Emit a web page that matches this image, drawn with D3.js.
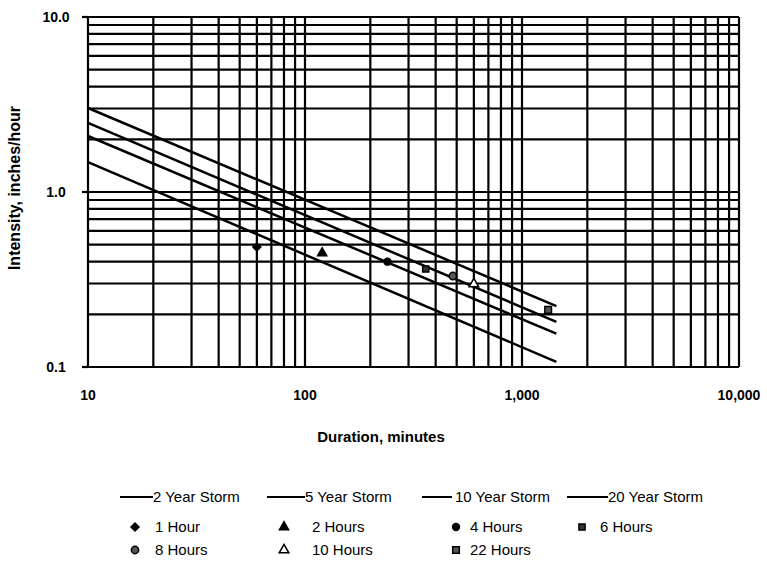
<!DOCTYPE html>
<html lang="en">
<head>
  <meta charset="UTF-8">
  <title>Intensity-Duration-Frequency</title>
  <script src="https://d3js.org/d3.v7.min.js"></script>
  <style>
    html, body { margin: 0; padding: 0; background: #fff; overflow: hidden; }
    svg { font-family: "Liberation Sans", Arial, sans-serif; display: block; }
  </style>
</head>
<body>
<div id="chart"></div>
<script>
  // Storm curves (straight on log-log), read at 10 and 1440 minutes
  const storms = ["2 Year Storm", "5 Year Storm", "10 Year Storm", "20 Year Storm"];
  const stormDurations = [10, 1440];
  const stormIntensity = [
    [1.48, 0.107],
    [2.09, 0.155],
    [2.48, 0.181],
    [3.02, 0.223]
  ];

  // Observed points
  const pointLabels = ["1 Hour", "2 Hours", "4 Hours", "6 Hours", "8 Hours", "10 Hours", "22 Hours"];
  const pointDurations = [60, 120, 240, 360, 480, 600, 1320];
  const pointIntensity = [0.485, 0.448, 0.40, 0.363, 0.331, 0.298, 0.212];

  const xTicks = [10, 100, 1000, 10000];
  const yTicks = [0.1, 1, 10];

  const width = 767, height = 563;
  const plotL = 88, plotR = 739, plotT = 17, plotB = 367;

  const svg = d3.select("#chart").append("svg")
    .attr("width", width)
    .attr("height", height);

  const x = d3.scaleLog().domain([10, 10000]).range([plotL, plotR]);
  const y = d3.scaleLog().domain([0.1, 10]).range([plotB, plotT]);

  // grid: every 1..9 of each decade
  const xGrid = x.ticks();
  const yGrid = y.ticks();

  const grid = svg.append("g").attr("stroke", "#000").attr("stroke-width", 2.2);
  grid.selectAll("line.v").data(xGrid).enter().append("line")
    .attr("class", "v")
    .attr("x1", d => x(d)).attr("x2", d => x(d))
    .attr("y1", plotT).attr("y2", plotB);
  grid.selectAll("line.h").data(yGrid).enter().append("line")
    .attr("class", "h")
    .attr("x1", plotL).attr("x2", plotR)
    .attr("y1", d => y(d)).attr("y2", d => y(d));

  // left tick marks at the decades
  grid.selectAll("line.t").data(yTicks).enter().append("line")
    .attr("class", "t")
    .attr("x1", plotL - 6).attr("x2", plotL)
    .attr("y1", d => y(d)).attr("y2", d => y(d));

  // axis labels
  svg.append("g").selectAll("text").data(xTicks).enter().append("text")
    .attr("x", d => x(d)).attr("y", 400)
    .attr("text-anchor", "middle")
    .attr("font-size", 14).attr("font-weight", "bold")
    .text(d => d3.format(",")(d));

  svg.append("g").selectAll("text").data(yTicks).enter().append("text")
    .attr("x", 56).attr("y", d => y(d) + 5)
    .attr("text-anchor", "middle")
    .attr("font-size", 14).attr("font-weight", "bold")
    .text(d => d3.format(".1f")(d));

  svg.append("text")
    .attr("x", 381).attr("y", 442)
    .attr("text-anchor", "middle")
    .attr("font-size", 15).attr("font-weight", "bold")
    .text("Duration, minutes");

  svg.append("text")
    .attr("transform", "translate(20,188) rotate(-90)")
    .attr("text-anchor", "middle")
    .attr("font-size", 16).attr("font-weight", "bold")
    .text("Intensity, inches/hour");

  // storm lines
  const line = d3.line().x(d => x(d[0])).y(d => y(d[1]));
  svg.append("g").selectAll("path").data(stormIntensity).enter().append("path")
    .attr("d", vals => line(stormDurations.map((t, i) => [t, vals[i]])))
    .attr("fill", "none")
    .attr("stroke", "#000")
    .attr("stroke-width", 2.5);

  // marker styles
  const markers = [
    { type: d3.symbolSquare, fill: "#000", size: 32, rot: 45 },
    { type: d3.symbolTriangle, fill: "#000", size: 36, rot: 0 },
    { type: d3.symbolCircle, fill: "#000", size: 38, rot: 0 },
    { type: d3.symbolSquare, fill: "#333", size: 38, rot: 0 },
    { type: d3.symbolCircle, fill: "#555", size: 42, rot: 0 },
    { type: d3.symbolTriangle, fill: "#fff", size: 40, rot: 0 },
    { type: d3.symbolSquare, fill: "#555", size: 44, rot: 0 }
  ];
  const sym = m => d3.symbol().type(m.type).size(m.size)();

  svg.append("g").selectAll("path").data(pointDurations).enter().append("path")
    .attr("d", (d, i) => sym(markers[i]))
    .attr("transform", (d, i) => `translate(${x(d)},${y(pointIntensity[i])}) rotate(${markers[i].rot})`)
    .attr("fill", (d, i) => markers[i].fill)
    .attr("stroke", "#000")
    .attr("stroke-width", 1.5);

  // legend
  const legend = svg.append("g").attr("font-size", 15);
  const lineCols = [[120, 153], [267, 305], [422, 452], [567, 608]];
  storms.forEach((s, i) => {
    const g = legend.append("g");
    g.append("line")
      .attr("x1", lineCols[i][0]).attr("x2", lineCols[i][1])
      .attr("y1", 497).attr("y2", 497)
      .attr("stroke", "#000").attr("stroke-width", 2);
    g.append("text")
      .attr("x", lineCols[i][1] + (i === 2 ? 3 : 0)).attr("y", 502)
      .text(s);
  });

  const markCols = [[135, 155], [284, 312], [456, 470], [582, 600]];
  pointLabels.forEach((p, i) => {
    const col = markCols[i % 4];
    const yy = i < 4 ? 527 : 550;
    legend.append("path")
      .attr("d", sym(markers[i]))
      .attr("transform", `translate(${col[0]},${yy}) rotate(${markers[i].rot})`)
      .attr("fill", markers[i].fill)
      .attr("stroke", "#000")
      .attr("stroke-width", 1.5);
    legend.append("text")
      .attr("x", col[1]).attr("y", yy + 5)
      .text(p);
  });
</script>
</body>
</html>
